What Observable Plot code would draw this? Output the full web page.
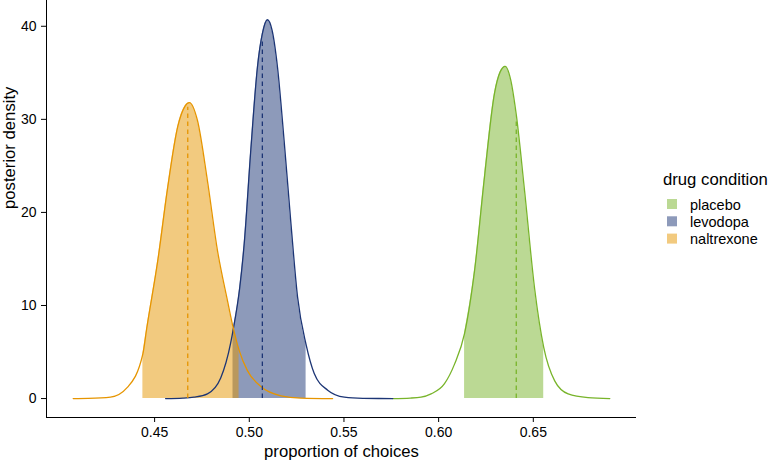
<!DOCTYPE html>
<html>
<head>
<meta charset="utf-8">
<script src="https://cdn.jsdelivr.net/npm/d3@7"></script>
<script src="https://cdn.jsdelivr.net/npm/@observablehq/plot@0.6"></script>
<style>
  body { margin: 0; background: #fff; }
  #wrap { position: relative; width: 769px; height: 461px; font-family: "Liberation Sans", Arial, sans-serif; }
</style>
</head>
<body>
<div id="wrap"></div>
<script>
// ---- data ----
const conditions = ["placebo", "levodopa", "naltrexone"];
const lineColors = ["#78B42A", "#1C3575", "#E69500"];

const placeboX = [0.5758, 0.5850, 0.5907, 0.5960, 0.6031, 0.6084, 0.6137, 0.6190, 0.6242, 0.6295, 0.6325, 0.6352, 0.6380, 0.6410, 0.6454, 0.6507, 0.6555, 0.6613, 0.6684, 0.6789, 0.6904];
const placeboY = [0.00, 0.05, 0.15, 0.5, 1.6, 3.7, 7.0, 13.8, 23.8, 32.8, 35.1, 35.7, 34.3, 30.5, 22.3, 11.8, 5.5, 1.9, 0.5, 0.1, 0.0];

const levodopaX = [0.4558, 0.4650, 0.4708, 0.4779, 0.4849, 0.4902, 0.4914, 0.4950, 0.4973, 0.5008, 0.5043, 0.5069, 0.5096, 0.5120, 0.5149, 0.5184, 0.5220, 0.5255, 0.5300, 0.5343, 0.5414, 0.5502, 0.5600, 0.5758];
const levodopaY = [0.00, 0.05, 0.15, 0.5, 2.2, 6.0, 7.3, 12.0, 16.6, 26.7, 35.6, 39.2, 40.7, 39.6, 35.6, 27.7, 18.8, 10.9, 5.8, 2.7, 0.9, 0.15, 0.03, 0.0];

const naltrexoneX = [0.4070, 0.4150, 0.4267, 0.4356, 0.4438, 0.4458, 0.4518, 0.4567, 0.4623, 0.4660, 0.4684, 0.4726, 0.4779, 0.4832, 0.4885, 0.4914, 0.4946, 0.4990, 0.5061, 0.5167, 0.5272, 0.5440];
const naltrexoneY = [0.00, 0.02, 0.15, 1.2, 4.8, 7.5, 15.0, 22.4, 29.3, 31.4, 31.8, 29.9, 23.4, 15.9, 10.5, 7.7, 5.2, 3.0, 1.3, 0.3, 0.05, 0.0];

// shaded credible intervals
const intervalLow  = [0.6137, 0.4914, 0.4438];
const intervalHigh = [0.6555, 0.5300, 0.4946];

// dashed reference lines
const dashX   = [0.6410, 0.5069, 0.4675];
const dashTop = [30.0, 38.6, 31.3];

const xTicks = [0.45, 0.50, 0.55, 0.60, 0.65];
const yTicks = [0, 10, 20, 30, 40];
const xLabel = "proportion of choices";
const yLabel = "posterior density";
const legendTitle = "drug condition";

// ---- build tables ----
const xsAll = [placeboX, levodopaX, naltrexoneX];
const ysAll = [placeboY, levodopaY, naltrexoneY];
const curves = conditions.flatMap((c, i) => xsAll[i].map((x, j) => ({condition: c, x, y: ysAll[i][j], base: 0})));
const areas = curves.filter(d => {
  const i = conditions.indexOf(d.condition);
  return d.x >= intervalLow[i] - 1e-9 && d.x <= intervalHigh[i] + 1e-9;
});
const dashes = conditions.map((c, i) => ({condition: c, x: dashX[i], top: dashTop[i], base: 0}));

const xDomain = [0.3929, 0.7045];
const yDomain = [-2.035, 42.77];
const font = "Liberation Sans, Arial, sans-serif";

const chart = Plot.plot({
  width: 769,
  height: 461,
  marginLeft: 46,
  marginRight: 133,
  marginTop: 0,
  marginBottom: 44,
  x: {domain: xDomain},
  y: {domain: yDomain},
  color: {domain: conditions, range: lineColors},
  style: {fontFamily: font, color: "#000", background: "#fff", overflow: "visible"},
  marks: [
    Plot.areaY(areas, {x: "x", y1: "base", y2: "y", z: "condition", fill: "condition", fillOpacity: 0.5, curve: "monotone-x"}),
    Plot.line(curves, {x: "x", y: "y", z: "condition", stroke: "condition", strokeWidth: 1.3, curve: "monotone-x"}),
    Plot.ruleX(dashes, {x: "x", y1: "base", y2: "top", stroke: "condition", strokeWidth: 1.3, strokeDasharray: "4.5,3.5"}),
    Plot.ruleX([xDomain[0]], {stroke: "#000", strokeWidth: 1}),
    Plot.ruleY([yDomain[0]], {stroke: "#000", strokeWidth: 1}),
    Plot.axisX({ticks: xTicks, tickFormat: d3.format(".2f"), tickSize: 5, tickPadding: 5, fontSize: 14, label: null, stroke: "#000"}),
    Plot.axisY({ticks: yTicks, tickFormat: d3.format("d"), tickSize: 5, tickPadding: 5, fontSize: 14, label: null, stroke: "#000"}),
    Plot.text([xLabel], {frameAnchor: "bottom", dy: 39.5, lineAnchor: "bottom", fontSize: 16.7, fill: "#000", text: d => d}),
    Plot.text([yLabel], {frameAnchor: "left", dx: -31.5, rotate: -90, lineAnchor: "bottom", fontSize: 16.7, fill: "#000", text: d => d})
  ]
});

document.getElementById("wrap").appendChild(chart);

// legend (real text, drawn into the same svg)
const svg = d3.select(chart);
const lg = svg.append("g").attr("font-family", font).attr("text-anchor", "start");
lg.append("text").attr("x", 663).attr("y", 185).attr("font-size", 16.7).attr("fill", "#000").text(legendTitle);
conditions.forEach((c, i) => {
  const cy = 204 + i * 17.3;
  lg.append("rect").attr("x", 667).attr("y", cy - 5).attr("width", 10).attr("height", 10)
    .attr("fill", lineColors[i]).attr("fill-opacity", 0.5);
  lg.append("text").attr("x", 690).attr("y", cy + 5.5).attr("font-size", 14.5).attr("fill", "#000").text(c);
});
</script>
</body>
</html>
